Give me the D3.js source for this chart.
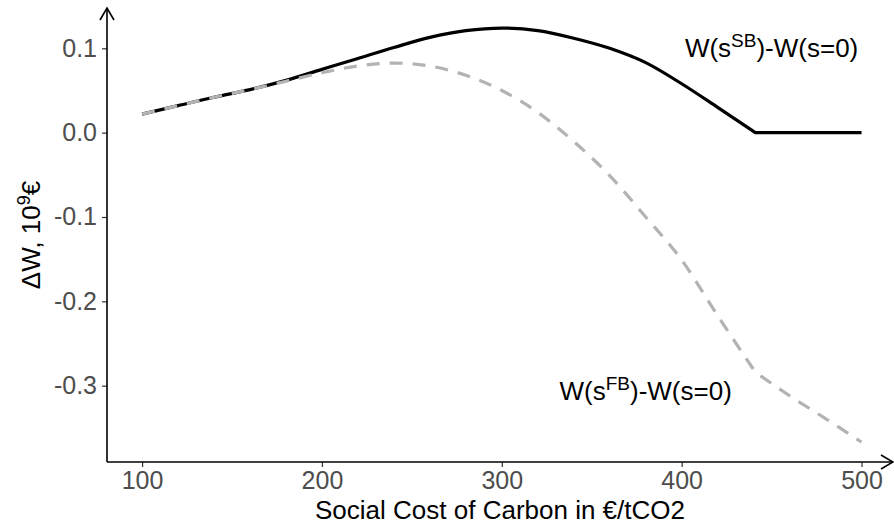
<!DOCTYPE html>
<html>
<head>
<meta charset="utf-8">
<script src="https://cdn.jsdelivr.net/npm/d3@7"></script>
<style>
  body { margin: 0; background: #fff; }
  svg { display: block; font-family: "Liberation Sans", Arial, sans-serif; }
</style>
</head>
<body>
<svg id="chart" width="894" height="527"></svg>
<script>
// social cost of carbon (EUR/tCO2)
var scc = [100, 120, 140, 160, 180, 200, 220, 240, 260, 280, 300, 320, 340, 360, 380, 400, 420, 441, 460, 480, 500];
// W(s^SB) - W(s=0), 10^9 EUR
var secondBest = [0.022, 0.032, 0.042, 0.051, 0.062, 0.075, 0.088, 0.101, 0.113, 0.121, 0.124, 0.121, 0.112, 0.100, 0.083, 0.058, 0.030, 0.0, 0.0, 0.0, 0.0];
// W(s^FB) - W(s=0), 10^9 EUR
var firstBest = [0.022, 0.032, 0.042, 0.051, 0.061, 0.071, 0.079, 0.0825, 0.079, 0.068, 0.05, 0.024, -0.0105, -0.051, -0.1, -0.151, -0.217, -0.284, -0.312, -0.339, -0.367];
// scc where the second-best subsidy hits zero (kink in both curves)
var kinkScc = 441;

var xTicks = [100, 200, 300, 400, 500];
var yTicks = [-0.3, -0.2, -0.1, 0.0, 0.1];

var svg = d3.select("#chart");

var pLeft = 107, pRight = 893, pTop = 8, pBottom = 462;

var x = d3.scaleLinear().domain([80.5, 517.5]).range([pLeft, pRight]);
var y = d3.scaleLinear().domain([-0.3905, 0.1478]).range([pBottom, pTop]);

// axes
var xAxis = svg.append("g")
    .attr("transform", "translate(0," + pBottom + ")")
    .call(d3.axisBottom(x).tickValues(xTicks).tickSize(5).tickPadding(4).tickFormat(d3.format("d")));
var yAxis = svg.append("g")
    .attr("transform", "translate(" + pLeft + ",0)")
    .call(d3.axisLeft(y).tickValues(yTicks).tickSize(5).tickPadding(5)
        .tickFormat(function (d) { return d3.format(".1f")(d).replace("−", "-"); }));

[xAxis, yAxis].forEach(function (g) {
    g.select(".domain").remove();
    g.selectAll(".tick line").attr("stroke", "#333").attr("stroke-width", 1.2);
    g.selectAll(".tick text")
        .attr("fill", "#4d4d4d")
        .style("font-size", "25px")
        .style("font-family", "'Liberation Sans', Arial, sans-serif");
});

// axis lines with open arrow heads
svg.append("path")
    .attr("d", "M" + pLeft + "," + pBottom + "H" + pRight)
    .attr("stroke", "#000").attr("stroke-width", 1.6).attr("fill", "none");
svg.append("path")
    .attr("d", "M" + (pRight - 12) + "," + (pBottom - 7) + "L" + pRight + "," + pBottom + "L" + (pRight - 12) + "," + (pBottom + 7))
    .attr("stroke", "#000").attr("stroke-width", 1.6).attr("fill", "none");
svg.append("path")
    .attr("d", "M" + pLeft + "," + pBottom + "V" + pTop)
    .attr("stroke", "#000").attr("stroke-width", 1.6).attr("fill", "none");
svg.append("path")
    .attr("d", "M" + (pLeft - 7) + "," + (pTop + 12) + "L" + pLeft + "," + pTop + "L" + (pLeft + 7) + "," + (pTop + 12))
    .attr("stroke", "#000").attr("stroke-width", 1.6).attr("fill", "none");

var smooth = d3.line()
    .x(function (d) { return x(d.x); })
    .y(function (d) { return y(d.y); })
    .curve(d3.curveMonotoneX);

// path string: smooth up to the kink, smooth again after it (sharp corner at kink)
function kinkedPath(values) {
    var pts = scc.map(function (s, i) { return { x: s, y: values[i] }; });
    var k = scc.indexOf(kinkScc);
    var before = smooth(pts.slice(0, k + 1));
    var after = smooth(pts.slice(k));
    return before + "L" + after.slice(1);
}

svg.append("path")
    .attr("d", kinkedPath(secondBest))
    .attr("fill", "none")
    .attr("stroke", "#000")
    .attr("stroke-width", 3.2)
    .attr("stroke-linejoin", "round");

svg.append("path")
    .attr("d", kinkedPath(firstBest))
    .attr("fill", "none")
    .attr("stroke", "#b3b3b3")
    .attr("stroke-width", 3.2)
    .attr("stroke-dasharray", "13,10");

// line labels
var labels = [
    { x: 450, y: 0.1, sup: "SB" },
    { x: 380, y: -0.306, sup: "FB" }
];
labels.forEach(function (l) {
    var t = svg.append("text")
        .attr("x", x(l.x))
        .attr("y", y(l.y) + 9)
        .attr("text-anchor", "middle")
        .style("font-size", "26px")
        .attr("fill", "#000");
    t.append("tspan").text("W(s");
    t.append("tspan").attr("baseline-shift", "super").style("font-size", "19px").text(l.sup);
    t.append("tspan").text(")-W(s=0)");
});

// axis titles
svg.append("text")
    .attr("x", (pLeft + pRight) / 2)
    .attr("y", 519)
    .attr("text-anchor", "middle")
    .style("font-size", "26px")
    .text("Social Cost of Carbon in €/tCO2");

var yt = svg.append("text")
    .attr("transform", "translate(40," + ((pTop + pBottom) / 2) + ") rotate(-90)")
    .attr("text-anchor", "middle")
    .style("font-size", "26px");
yt.append("tspan").text("ΔW, 10");
yt.append("tspan").attr("baseline-shift", "super").style("font-size", "18px").text("9");
yt.append("tspan").text("€");
</script>
</body>
</html>
